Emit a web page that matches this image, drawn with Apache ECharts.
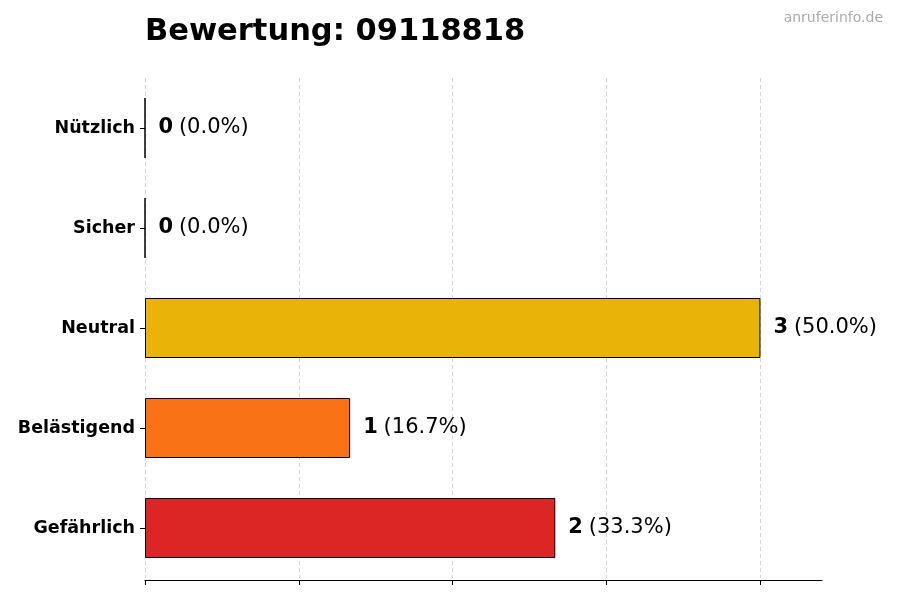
<!DOCTYPE html>
<html>
<head>
<meta charset="utf-8">
<script src="https://cdn.jsdelivr.net/npm/echarts@6/dist/echarts.min.js"></script>
<style>
  html, body { margin: 0; padding: 0; background: #fff; }
  #main { width: 900px; height: 600px; }
</style>
</head>
<body>
<div id="main"></div>
<script>
// Kategorien von unten nach oben
const categories = ['Gefährlich', 'Belästigend', 'Neutral', 'Sicher', 'Nützlich'];
const counts = [2, 1, 3, 0, 0];
const barColors = ['#dc2626', '#f97316', '#eab308', '#84cc16', '#22c55e'];
const tickValues = [0, 0.75, 1.5, 2.25, 3];

const total = counts.reduce((a, b) => a + b, 0);

let chart = echarts.init(document.getElementById('main'), null, { renderer: 'canvas' });

chart.setOption({
  backgroundColor: '#fff',
  animation: false,
  textStyle: { fontFamily: 'DejaVu Sans' },
  title: [{
    text: 'Bewertung: 09118818',
    left: 140,
    top: 12,
    textStyle: { fontSize: 30.5, fontWeight: 'bold', color: '#000', fontFamily: 'DejaVu Sans' }
  }, {
    text: 'anruferinfo.de',
    right: 12,
    top: 6,
    textStyle: { fontSize: 14, fontWeight: 'normal', color: '#aaa', fontFamily: 'DejaVu Sans' }
  }],
  grid: { left: 145, right: 78, top: 78, bottom: 22 },
  xAxis: {
    type: 'value',
    min: 0,
    max: 3.3,
    interval: 0.75,
    offset: 2,
    axisLine: { show: true, lineStyle: { color: '#000', width: 1.2 } },
    axisTick: { show: true, length: 5, customValues: tickValues, lineStyle: { color: '#000' } },
    axisLabel: { show: false },
    splitLine: {
      show: true,
      lineStyle: {
        type: [4, 3],
        width: 1,
        color: ['#d6d6d6', '#d6d6d6', '#d6d6d6', '#d6d6d6', '#d6d6d6', 'rgba(0,0,0,0)']
      }
    }
  },
  yAxis: {
    type: 'category',
    data: categories,
    axisLine: { show: false },
    axisTick: { show: true, alignWithLabel: true, length: 5, lineStyle: { color: '#000' } },
    axisLabel: { fontSize: 17.5, fontWeight: 'bold', color: '#000', margin: 10, fontFamily: 'DejaVu Sans' }
  },
  series: [{
    type: 'bar',
    barWidth: 60,
    data: counts.map((v, i) => ({
      value: v,
      itemStyle: { color: barColors[i], borderColor: '#000', borderWidth: 1 }
    })),
    label: {
      show: true,
      position: 'right',
      distance: 13,
      formatter: function (p) {
        let pct = total ? (p.value / total * 100).toFixed(1) : '0.0';
        return '{b|' + p.value + '} {n|(' + pct + '%)}';
      },
      rich: {
        b: { fontSize: 21, fontWeight: 'bold', color: '#000', fontFamily: 'DejaVu Sans' },
        n: { fontSize: 21, color: '#000', fontFamily: 'DejaVu Sans', padding: [0, 0, 0, 2] }
      }
    }
  }]
});
</script>
</body>
</html>
